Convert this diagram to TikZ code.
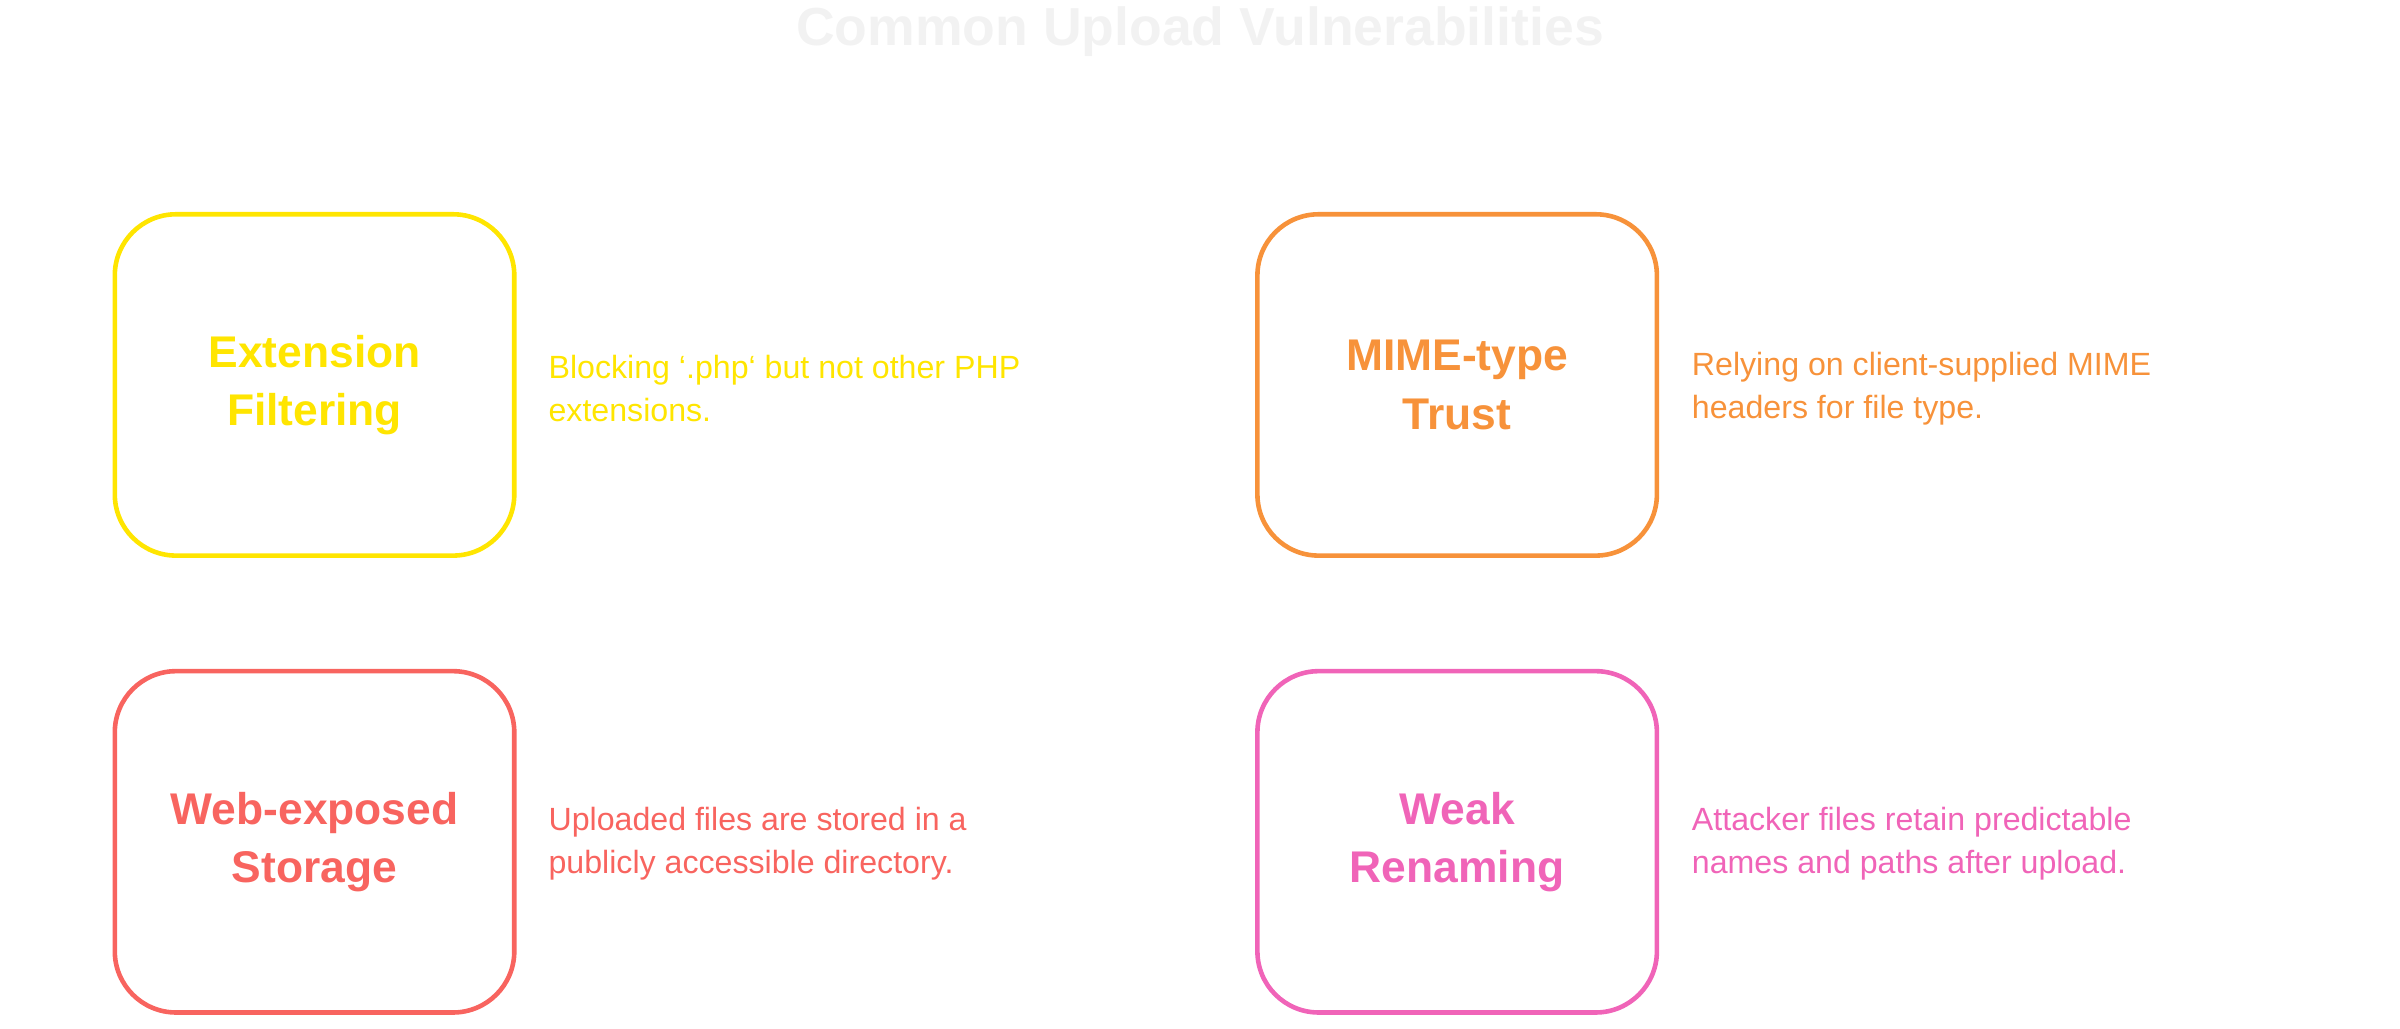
\documentclass[tikz,border=0pt]{standalone}
\usepackage{fontspec}
\setmainfont{Liberation Sans}
\definecolor{cyel}{HTML}{FFE500}
\definecolor{cora}{HTML}{F7923A}
\definecolor{cred}{HTML}{F8645F}
\definecolor{cpink}{HTML}{F064B8}
\definecolor{ctitle}{HTML}{F2F2F2}
\begin{document}
\begin{tikzpicture}[x=0.5pt,y=-0.5pt,
  card/.style={draw=#1,text=#1,line width=1.5pt,rounded corners=20pt,minimum width=130.5pt,minimum height=111.5pt,align=center,font=\fontsize{14.5}{19}\selectfont\bfseries},
  desc/.style={text=#1,anchor=west,align=left,inner sep=0pt,font=\fontsize{10.5}{14}\selectfont}]
\useasboundingbox (0,0) rectangle (1568,672);
\node[text=ctitle,font=\fontsize{17.5}{20}\selectfont\bfseries] (title) at (784,21) {Common Upload Vulnerabilities};
\node[card=cyel] (b1) at (205.5,251.5) {Extension\\Filtering};
\node[desc=cyel] (d1) at (358,254) {Blocking `.php` but not other PHP\\extensions.};
\node[card=cora] (b2) at (952,251.5) {MIME-type\\Trust};
\node[desc=cora] (d2) at (1105,254) {Relying on client-supplied MIME\\headers for file type.};
\node[card=cred] (b3) at (205.5,550) {Web-exposed\\Storage};
\node[desc=cred] (d3) at (358,551) {Uploaded files are stored in a\\publicly accessible directory.};
\node[card=cpink] (b4) at (952,550) {Weak\\Renaming};
\node[desc=cpink] (d4) at (1105,551) {Attacker files retain predictable\\names and paths after upload.};
\end{tikzpicture}
\end{document}
